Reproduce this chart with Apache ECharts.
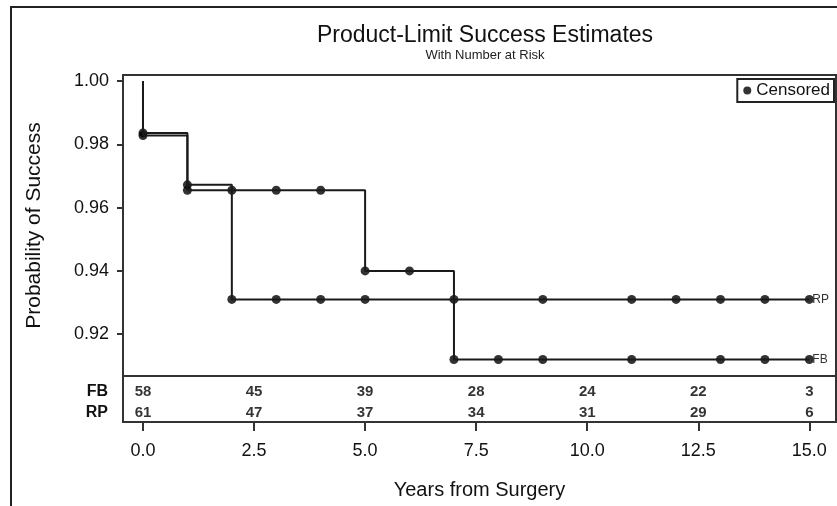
<!DOCTYPE html>
<html>
<head>
<meta charset="utf-8">
<script src="https://cdn.jsdelivr.net/npm/echarts@6/dist/echarts.min.js"></script>
<style>
html, body { margin: 0; padding: 0; background: #fff; }
#chart_id { width: 837px; height: 506px; }
</style>
</head>
<body>
<div id="chart_id"></div>
<script>
// step curves: time of each drop and survival after it
var fbTimes = [0, 0, 1, 5, 7, 15];
var fbSurv = [1.0, 0.9828, 0.9655, 0.940, 0.912, 0.912];
var rpTimes = [0, 0, 1, 2, 15];
var rpSurv = [1.0, 0.9836, 0.9672, 0.931, 0.931];
// censored times
var fbCensored = [0, 1, 2, 3, 4, 5, 6, 7, 8, 9, 11, 13, 14, 15];
var rpCensored = [0, 1, 2, 3, 4, 5, 7, 9, 11, 12, 13, 14, 15];
// number at risk
var riskTimes = [0, 2.5, 5, 7.5, 10, 12.5, 15];
var riskGroups = ['FB', 'RP'];
var fbAtRisk = [58, 45, 39, 28, 24, 22, 3];
var rpAtRisk = [61, 47, 37, 34, 31, 29, 6];
// tick labels
var xTicks = [0, 2.5, 5, 7.5, 10, 12.5, 15];
var yTicks = [0.92, 0.94, 0.96, 0.98, 1.00];

var FONT = "'Liberation Sans', Arial, sans-serif";
var INK = '#1a1a1a';

function survAt(times, surv, t) {
  var v = surv[0];
  for (var i = 0; i < times.length; i++) {
    if (times[i] <= t) v = surv[i];
  }
  return v;
}
function curve(times, surv) {
  return times.map(function (t, i) { return [t, surv[i]]; });
}
function censorPts(ct, times, surv) {
  return ct.map(function (t) { return [t, survAt(times, surv, t)]; });
}
function riskPts(counts, row) {
  return riskTimes.map(function (t, i) { return [t, row, counts[i]]; });
}

var chart = echarts.init(document.getElementById('chart_id'));

var xCommon = {
  type: 'value',
  min: -0.45,
  max: 15.6,
  splitLine: { show: false }
};

var option = {
  animation: false,
  backgroundColor: '#fff',
  textStyle: { fontFamily: FONT },
  title: {
    text: 'Product-Limit Success Estimates',
    subtext: 'With Number at Risk',
    left: 480,
    top: 19,
    textAlign: 'center',
    itemGap: 2,
    textStyle: { fontSize: 23, fontWeight: 'normal', color: '#111', fontFamily: FONT },
    subtextStyle: { fontSize: 13, color: '#222', fontFamily: FONT }
  },
  legend: {
    data: ['Censored'],
    right: 3,
    top: 79,
    icon: 'circle',
    itemWidth: 8,
    itemHeight: 8,
    itemGap: 4,
    padding: [3, 4, 3, 6],
    borderColor: '#222',
    borderWidth: 2,
    textStyle: { fontSize: 17, color: '#111', fontFamily: FONT }
  },
  graphic: [{
    type: 'polyline',
    shape: { points: [[11, 506], [11, 7], [837, 7]] },
    style: { stroke: '#222', lineWidth: 2, fill: null }
  }],
  grid: [
    { left: 123, right: 1, top: 75, height: 301, show: true, borderColor: '#333', borderWidth: 2 },
    { left: 123, right: 1, top: 376, height: 46, show: true, borderColor: '#333', borderWidth: 2 }
  ],
  xAxis: [
    Object.assign({ gridIndex: 0, show: false }, xCommon),
    Object.assign({
      gridIndex: 1,
      position: 'bottom',
      name: 'Years from Surgery',
      nameLocation: 'middle',
      nameGap: 58,
      nameTextStyle: { fontSize: 20, color: '#111' },
      axisLine: { show: true, onZero: false, lineStyle: { color: '#333', width: 2 } },
      axisTick: { show: true, length: 9, customValues: xTicks, lineStyle: { color: '#333', width: 2 } },
      axisLabel: {
        customValues: xTicks,
        margin: 20,
        fontSize: 18,
        color: '#111',
        formatter: function (v) { return v.toFixed(1); }
      }
    }, xCommon)
  ],
  yAxis: [
    {
      gridIndex: 0,
      type: 'value',
      position: 'left',
      min: 0.9068,
      max: 1.0019,
      name: 'Probability of Success',
      nameLocation: 'middle',
      nameGap: 78,
      nameTextStyle: { fontSize: 21, color: '#111' },
      splitLine: { show: false },
      axisLine: { show: true, onZero: false, lineStyle: { color: '#333', width: 2 } },
      axisTick: { show: true, length: 6, customValues: yTicks, lineStyle: { color: '#333', width: 2 } },
      axisLabel: {
        customValues: yTicks,
        margin: 14,
        fontSize: 18,
        color: '#111',
        formatter: function (v) { return v.toFixed(2); }
      }
    },
    {
      gridIndex: 1,
      type: 'value',
      position: 'left',
      inverse: true,
      min: -0.76,
      max: 1.43,
      splitLine: { show: false },
      axisLine: { show: false, onZero: false },
      axisTick: { show: false },
      axisLabel: {
        customValues: [0, 1],
        margin: 15,
        fontSize: 16,
        fontWeight: 'bold',
        color: '#111',
        formatter: function (v) { return riskGroups[Math.round(v)]; }
      }
    }
  ],
  series: [
    {
      name: 'FB',
      type: 'line',
      step: 'end',
      data: curve(fbTimes, fbSurv),
      showSymbol: false,
      lineStyle: { color: INK, width: 2 },
      endLabel: { show: true, formatter: '{a}', fontSize: 12, color: '#333', distance: 3 }
    },
    {
      name: 'RP',
      type: 'line',
      step: 'end',
      data: curve(rpTimes, rpSurv),
      showSymbol: false,
      lineStyle: { color: INK, width: 2 },
      endLabel: { show: true, formatter: '{a}', fontSize: 12, color: '#333', distance: 3 }
    },
    {
      name: 'Censored',
      type: 'scatter',
      symbolSize: 9,
      itemStyle: { color: '#000' },
      data: censorPts(fbCensored, fbTimes, fbSurv)
    },
    {
      name: 'Censored',
      type: 'scatter',
      symbolSize: 9,
      itemStyle: { color: '#000' },
      data: censorPts(rpCensored, rpTimes, rpSurv)
    },
    {
      name: 'At risk FB',
      type: 'scatter',
      xAxisIndex: 1,
      yAxisIndex: 1,
      symbolSize: 0,
      data: riskPts(fbAtRisk, 0),
      label: {
        show: true, position: 'inside', fontSize: 15, fontWeight: 'bold', color: '#000',
        formatter: function (p) { return p.value[2]; }
      }
    },
    {
      name: 'At risk RP',
      type: 'scatter',
      xAxisIndex: 1,
      yAxisIndex: 1,
      symbolSize: 0,
      data: riskPts(rpAtRisk, 1),
      label: {
        show: true, position: 'inside', fontSize: 15, fontWeight: 'bold', color: '#000',
        formatter: function (p) { return p.value[2]; }
      }
    }
  ]
};

chart.setOption(option);
</script>
</body>
</html>
